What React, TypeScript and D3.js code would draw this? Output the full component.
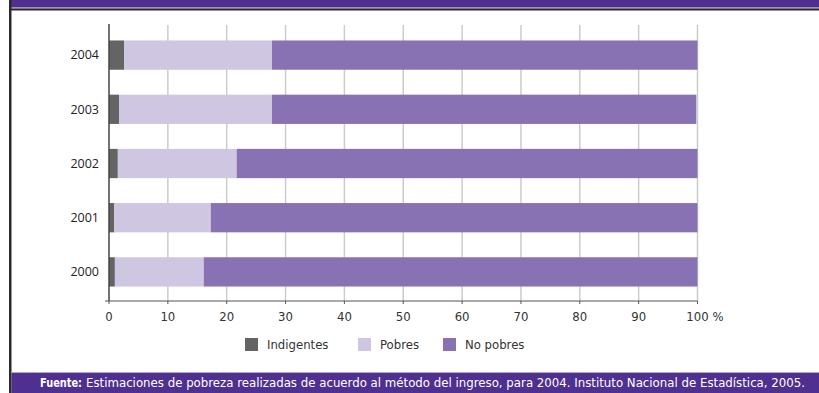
import React from "react";
import * as d3 from "d3";

const years = ["2004", "2003", "2002", "2001", "2000"];
const indigentes = [2.6, 1.7, 1.5, 0.9, 1.0];
const pobres = [25.1, 26.0, 20.2, 16.4, 15.1];
const noPobres = [72.3, 72.1, 78.3, 82.7, 83.9];
const seriesNames = ["Indigentes", "Pobres", "No pobres"];
const seriesColors = ["#646464", "#cfc6e2", "#8872b3"];
const xTicks = [0, 10, 20, 30, 40, 50, 60, 70, 80, 90, 100];
const footerBold = "Fuente:";
const footerText = "Estimaciones de pobreza realizadas de acuerdo al método del ingreso, para 2004. Instituto Nacional de Estadística, 2005.";

const W = 819;
const H = 393;
const narrow = "'Liberation Sans Narrow', 'DejaVu Sans Condensed', 'Arial Narrow', sans-serif";

export default function App() {
  const x = d3.scaleLinear().domain([0, 100]).range([109, 697.5]);
  const y = d3.scaleBand().domain(years).range([28, 299]).paddingInner(0.46).paddingOuter(0.23);

  const rows = years.map((yr, i) => ({ year: yr, Indigentes: indigentes[i], Pobres: pobres[i], "No pobres": noPobres[i] }));
  const stack = d3.stack<any>().keys(seriesNames);
  const layers = stack(rows);

  const axisY = 301;
  const legendX = [245, 358, 443];

  return (
    <svg width={W} height={H} style={{ position: "absolute", left: 0, top: 0, background: "#fff" }}>
      {/* frame */}
      <rect x={11} y={0} width={W - 11} height={7.5} fill="#4f2f8f" />
      <rect x={11} y={7.5} width={W - 11} height={1} fill="#9a90a8" />
      <rect x={11} y={8.5} width={W - 11} height={2} fill="#2a2a2a" />
      <rect x={9} y={0} width={2.5} height={H} fill="#2a2a2a" />
      <rect x={11.5} y={372} width={W - 11.5} height={1} fill="#b3aac4" />
      <rect x={11.5} y={373} width={W - 11.5} height={H - 373} fill="#4f2f8f" />

      {/* gridlines */}
      {xTicks.slice(1).map((t) => (
        <line key={"g" + t} x1={x(t)} x2={x(t)} y1={25} y2={axisY} stroke="#cccccc" strokeWidth={1.5} />
      ))}

      {/* bars */}
      {layers.map((layer, li) => (
        <g key={layer.key} fill={seriesColors[li]}>
          {layer.map((d: any) => (
            <rect key={d.data.year} x={x(d[0])} y={y(d.data.year)} width={x(d[1]) - x(d[0])} height={y.bandwidth()} />
          ))}
        </g>
      ))}

      {/* axes */}
      <line x1={109} x2={109} y1={24} y2={axisY} stroke="#444" strokeWidth={1.5} />
      <line x1={105} x2={x(100)} y1={axisY} y2={axisY} stroke="#555" strokeWidth={1.2} />
      {xTicks.map((t) => (
        <g key={"t" + t}>
          <line x1={x(t)} x2={x(t)} y1={axisY} y2={axisY + 3} stroke="#555" strokeWidth={1} />
          <text x={x(t)} y={axisY + 20} textAnchor="middle" fontFamily={narrow} fontSize={13} fill="#333">
            {t}
          </text>
        </g>
      ))}
      <text x={x(100) + 15} y={axisY + 20} fontFamily={narrow} fontSize={13} fill="#333">%</text>

      {years.map((yr) => (
        <text key={yr} x={99} y={(y(yr) as number) + y.bandwidth() / 2} dy="0.35em" textAnchor="end"
          fontFamily="'Open Sans', 'DejaVu Sans', sans-serif" fontSize={12.5} fill="#222">
          {yr}
        </text>
      ))}

      {/* legend */}
      {seriesNames.map((s, i) => (
        <g key={s}>
          <rect x={legendX[i]} y={338} width={13} height={13} fill={seriesColors[i]} />
          <text x={legendX[i] + 22} y={349} fontFamily={narrow} fontSize={13} fill="#333">{s}</text>
        </g>
      ))}

      {/* footer */}
      <text x={40} y={387} fontFamily={narrow} fontSize={13} fontWeight="bold" fill="#fff" textLength={42} lengthAdjust="spacingAndGlyphs">
        {footerBold}
      </text>
      <text x={86} y={387} fontFamily={narrow} fontSize={13} fill="#fff" textLength={719} lengthAdjust="spacingAndGlyphs">
        {footerText}
      </text>
    </svg>
  );
}
